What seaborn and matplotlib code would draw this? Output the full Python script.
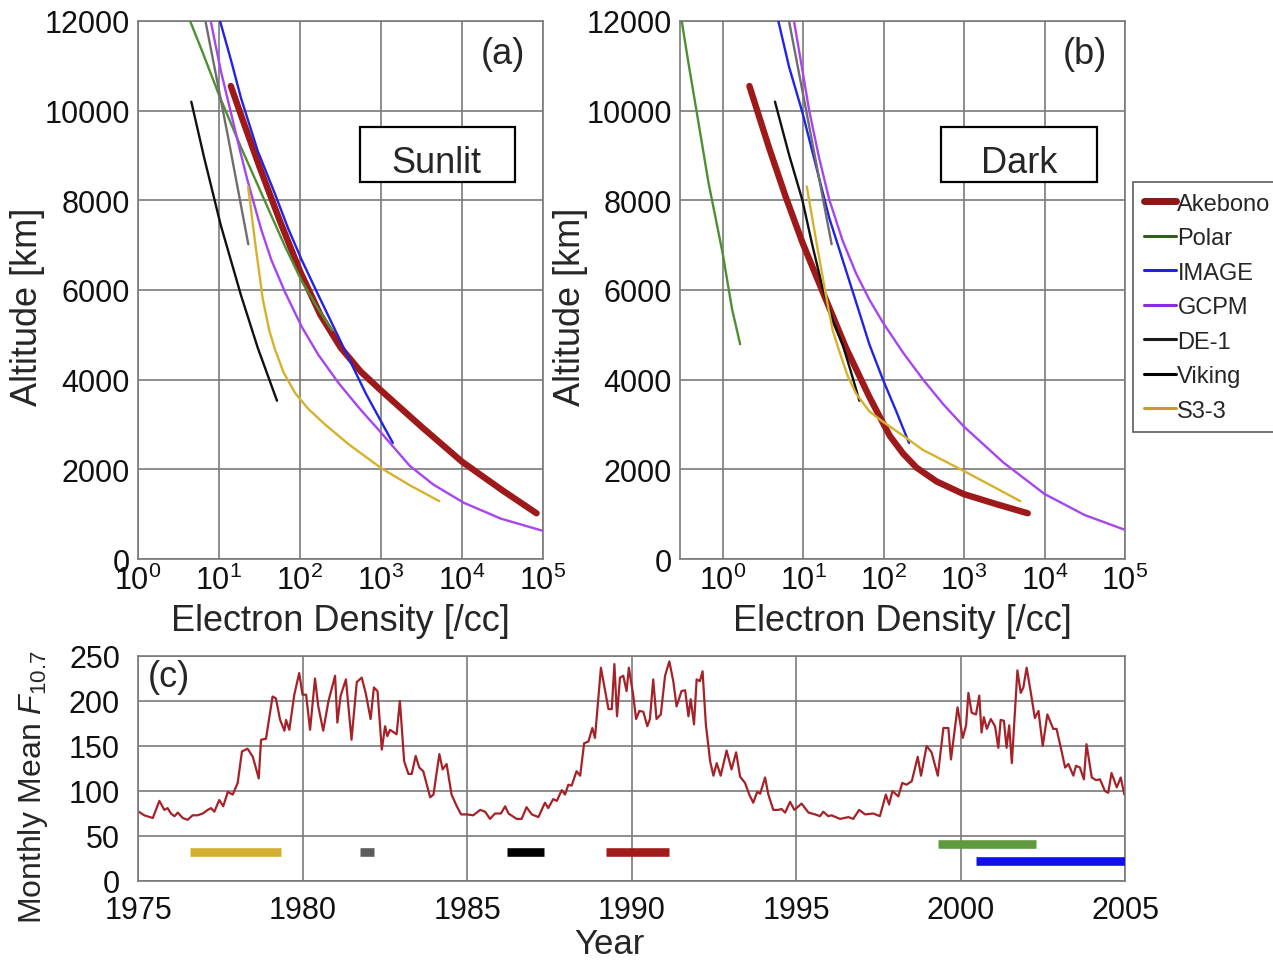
import numpy as np
import pandas as pd
import matplotlib
matplotlib.use("Agg")
import matplotlib.pyplot as plt
from matplotlib.lines import Line2D
from matplotlib.patches import Rectangle
from matplotlib.ticker import NullLocator
import seaborn as sns

# ---------------- data: panel (a) Sunlit ----------------
a_akebono_n = [14.0, 20.0, 31.6, 56.2, 100, 178, 316, 562, 1000, 3162, 10000, 31623, 83176]
a_akebono_h = [10550, 9750, 8750, 7550, 6420, 5450, 4720, 4180, 3760, 2950, 2170, 1530, 1020]
a_polar_n = [4.4, 6.5, 10, 18.7, 36.5, 65, 105, 169, 249]
a_polar_h = [12000, 11230, 10350, 9180, 8000, 6980, 6200, 5570, 5100]
a_image_n = [10.3, 14.0, 18.7, 30.1, 48.7, 71.5, 105, 169, 301, 443, 650, 953, 1400]
a_image_h = [12000, 11140, 10280, 9100, 8160, 7370, 6670, 5880, 4940, 4310, 3690, 3140, 2590]
a_gcpm_n = [7.9, 10.5, 14.0, 18.7, 22.6, 33.2, 44.3, 65, 105, 169, 301, 536, 1000, 2260, 4430, 10500, 30200, 100000]
a_gcpm_h = [12000, 10900, 9960, 9020, 8430, 7350, 6670, 5960, 5180, 4550, 3920, 3370, 2820, 2080, 1660, 1255, 900, 627]
a_de1_n = [6.8, 12.7, 23.0]
a_de1_h = [12000, 9490, 7020]
a_viking_n = [4.55, 6.5, 10.5, 18.7, 30.1, 52]
a_viking_h = [10200, 8980, 7450, 5880, 4710, 3530]
a_s33_n = [22.9, 28.2, 34.7, 41.7, 49.0, 63.1, 87.1, 126, 204, 398, 1000, 2239, 5248]
a_s33_h = [8300, 7000, 5800, 5100, 4680, 4150, 3700, 3350, 3000, 2560, 2030, 1650, 1290]

# ---------------- data: panel (b) Dark ----------------
b_akebono_n = [2.15, 3.76, 6.07, 9.8, 17.5, 34.1, 66.8, 119, 175, 256, 455, 982, 2560, 6190]
b_akebono_h = [10550, 9180, 8080, 7060, 5960, 4710, 3610, 2750, 2350, 2040, 1730, 1450, 1220, 1020]
b_polar_n = [0.31, 0.376, 0.477, 0.668, 1.0, 1.31, 1.65]
b_polar_h = [12000, 11060, 9960, 8390, 6820, 5570, 4790]
b_image_n = [4.92, 6.68, 9.8, 14.4, 21.1, 31.0, 45.5, 66.8, 98.2, 144, 207]
b_image_h = [12000, 10980, 9960, 8780, 7610, 6670, 5730, 4780, 4000, 3290, 2590]
b_gcpm_n = [7.7, 9.8, 11.9, 15.8, 21.1, 31.0, 45.5, 66.8, 100, 175, 310, 552, 1000, 3090, 10000, 31600, 100000]
b_gcpm_h = [12000, 10900, 10000, 8950, 8020, 7100, 6370, 5780, 5250, 4600, 4000, 3450, 2950, 2150, 1450, 980, 650]
b_de1_n = [6.68, 11.9, 22.6]
b_de1_h = [12000, 9650, 7020]
b_viking_n = [4.47, 6.68, 9.8, 13.1, 17.5, 23.3, 31.0, 39.5, 50.1]
b_viking_h = [10200, 9020, 8000, 6980, 6040, 5330, 4780, 4160, 3530]
b_s33_n = [11.1, 14.4, 19.2, 23.3, 28.2, 35.8, 45.5, 66.8, 98.2, 175, 310, 552, 1000, 2110, 5010]
b_s33_h = [8310, 7140, 5880, 5100, 4630, 4080, 3690, 3290, 3060, 2750, 2430, 2200, 1960, 1650, 1290]

missions = ["Akebono", "Polar", "IMAGE", "GCPM", "DE-1", "Viking", "S3-3"]
colors = {"Akebono": "#9e1a1a", "Polar": "#4f8f34", "IMAGE": "#2323e6",
          "GCPM": "#a845ee", "DE-1": "#6e6e6e", "Viking": "#111111", "S3-3": "#d6b22c"}
legend_colors = {"Akebono": "#8a1616", "Polar": "#2f5e1f", "IMAGE": "#2020e0",
                 "GCPM": "#8a2be2", "DE-1": "#1a1a1a", "Viking": "#000000", "S3-3": "#c89a3a"}

# ---------------- data: panel (c) F10.7 ----------------
f107_year = [1975.02, 1975.19, 1975.45, 1975.65, 1975.80, 1975.90, 1976.00, 1976.11, 1976.21, 1976.36,
             1976.51, 1976.66, 1976.81, 1976.97, 1977.12, 1977.22, 1977.32, 1977.47, 1977.59, 1977.73,
             1977.88, 1978.03, 1978.16, 1978.33, 1978.49, 1978.67, 1978.74, 1978.89, 1979.09, 1979.19,
             1979.32, 1979.45, 1979.50, 1979.60, 1979.75, 1979.90,
             1980.00, 1980.11, 1980.23, 1980.38, 1980.48, 1980.63, 1980.79, 1980.99, 1981.06, 1981.16,
             1981.32, 1981.49, 1981.65, 1981.80, 1981.92, 1982.07, 1982.17, 1982.28, 1982.41, 1982.51,
             1982.58, 1982.66, 1982.86, 1982.96, 1983.09, 1983.22, 1983.32, 1983.44, 1983.55, 1983.67,
             1983.75, 1983.88, 1983.98, 1984.16, 1984.26, 1984.38, 1984.53, 1984.69, 1984.82, 1984.99,
             1985.19, 1985.40, 1985.55, 1985.70, 1985.85, 1986.03, 1986.16, 1986.26, 1986.51, 1986.66,
             1986.81, 1986.97, 1987.17, 1987.37, 1987.47, 1987.62, 1987.73, 1987.88, 1987.98, 1988.08,
             1988.18, 1988.33, 1988.44, 1988.56, 1988.69, 1988.81, 1988.89, 1989.07, 1989.30, 1989.40,
             1989.48, 1989.56, 1989.65, 1989.75, 1989.85, 1989.92, 1990.05,
             1990.14, 1990.24, 1990.36, 1990.48, 1990.56, 1990.66, 1990.76, 1990.89, 1991.02, 1991.15,
             1991.27, 1991.37, 1991.52, 1991.63, 1991.73, 1991.80, 1991.90, 1991.98, 1992.08, 1992.16,
             1992.26, 1992.39, 1992.49, 1992.59, 1992.71, 1992.89, 1993.04, 1993.18, 1993.30, 1993.45,
             1993.58, 1993.70, 1993.82, 1993.91, 1994.06, 1994.16, 1994.31, 1994.46, 1994.56, 1994.67,
             1994.82, 1994.95,
             1995.17, 1995.38, 1995.58, 1995.73, 1995.83, 1995.98, 1996.08, 1996.34, 1996.59, 1996.74,
             1996.92, 1997.10, 1997.35, 1997.55, 1997.73, 1997.83, 1997.93, 1998.11, 1998.23, 1998.36,
             1998.52, 1998.70, 1998.80, 1998.97, 1999.12, 1999.31, 1999.48, 1999.63, 1999.71, 1999.91,
             2000.07,
             2000.17, 2000.24, 2000.34, 2000.47, 2000.57, 2000.64, 2000.71, 2000.80, 2000.92, 2001.05,
             2001.15, 2001.22, 2001.32, 2001.40, 2001.48, 2001.56, 2001.73, 2001.83, 2001.91, 2002.01,
             2002.13, 2002.26, 2002.37, 2002.50, 2002.64, 2002.82, 2002.92, 2003.08, 2003.18, 2003.28,
             2003.43, 2003.51, 2003.63, 2003.75, 2003.83, 2003.99, 2004.12, 2004.24, 2004.39, 2004.49,
             2004.59, 2004.75, 2004.87, 2004.98]
f107_flux = [77, 73, 70, 89, 79, 81, 75, 72, 76, 70,
             68, 73, 73, 75, 79, 81, 77, 90, 83, 99,
             96, 109, 144, 147, 138, 114, 157, 158, 205, 203,
             179, 167, 179, 168, 207, 231,
             207, 207, 168, 225, 194, 167, 200, 228, 176, 206,
             224, 157, 221, 226, 209, 180, 215, 211, 146, 172,
             161, 168, 163, 200, 133, 119, 119, 139, 126, 122,
             111, 93, 96, 141, 124, 130, 96, 83, 74, 74,
             73, 79, 77, 69, 75, 75, 83, 75, 69, 69,
             82, 74, 71, 87, 81, 91, 89, 101, 96, 107,
             106, 122, 117, 153, 155, 170, 159, 237, 191, 191,
             241, 183, 226, 228, 211, 237, 207,
             180, 189, 188, 172, 180, 224, 180, 185, 228, 244,
             222, 194, 211, 212, 183, 202, 174, 224, 222, 233,
             174, 133, 117, 131, 117, 145, 124, 143, 116, 109,
             96, 87, 99, 97, 115, 96, 79, 79, 80, 76,
             88, 79,
             86, 76, 74, 72, 77, 72, 73, 69, 71, 69,
             79, 74, 75, 72, 96, 85, 100, 94, 109, 107,
             111, 138, 117, 150, 143, 117, 170, 170, 135, 193,
             159,
             173, 209, 187, 185, 206, 165, 182, 169, 180, 172,
             148, 179, 178, 148, 173, 131, 234, 209, 215, 237,
             211, 181, 189, 150, 185, 169, 169, 143, 126, 130,
             117, 128, 126, 113, 152, 115, 112, 113, 100, 98,
             120, 104, 115, 96]

bar_mission = ["S3-3", "DE-1", "Viking", "Akebono", "Polar", "IMAGE"]
bar_start = [1976.58, 1981.75, 1986.23, 1989.21, 1999.31, 2000.46]
bar_end = [1979.35, 1982.17, 1987.34, 1991.15, 2002.31, 2005.0]
bar_level = [32, 32, 32, 32, 41, 22]
bar_colors = ["#d4b032", "#5c5c5c", "#000000", "#a01c1c", "#5f9a3e", "#1010ee"]

# ---------------- style ----------------
sns.set_theme(style="whitegrid")
plt.rcParams['font.family'] = ['Liberation Sans', 'DejaVu Sans']
plt.rcParams['mathtext.fontset'] = 'custom'
plt.rcParams['mathtext.rm'] = 'Liberation Sans'
plt.rcParams['mathtext.it'] = 'Liberation Sans:italic'
plt.rcParams['mathtext.bf'] = 'Liberation Sans:bold'

W, H = 1273, 962
fig = plt.figure(figsize=(W / 100, H / 100), dpi=100)
fig.patch.set_facecolor("white")

axA = fig.add_axes([138 / W, 1 - 560 / H, 405 / W, 538 / H])
axB = fig.add_axes([680 / W, 1 - 560 / H, 445 / W, 538 / H])
axC = fig.add_axes([138 / W, 1 - 882 / H, 987 / W, 225 / H])

GRID = "#7a7a7a"
TICK_FS = 22
LAB_FS = 26


def style(ax):
    ax.set_facecolor("white")
    ax.grid(True, color=GRID, lw=1.2)
    for s in ax.spines.values():
        s.set_visible(True)
        s.set_color(GRID)
        s.set_linewidth(1.2)
    ax.tick_params(axis="both", length=0, labelsize=TICK_FS, colors="#111111", pad=6)


panels = {
    axA: {"Akebono": (a_akebono_n, a_akebono_h), "Polar": (a_polar_n, a_polar_h),
          "IMAGE": (a_image_n, a_image_h), "GCPM": (a_gcpm_n, a_gcpm_h),
          "DE-1": (a_de1_n, a_de1_h), "Viking": (a_viking_n, a_viking_h),
          "S3-3": (a_s33_n, a_s33_h)},
    axB: {"Akebono": (b_akebono_n, b_akebono_h), "Polar": (b_polar_n, b_polar_h),
          "IMAGE": (b_image_n, b_image_h), "GCPM": (b_gcpm_n, b_gcpm_h),
          "DE-1": (b_de1_n, b_de1_h), "Viking": (b_viking_n, b_viking_h),
          "S3-3": (b_s33_n, b_s33_h)},
}

for ax, curves in panels.items():
    style(ax)
    for m in missions:
        n, h = curves[m]
        df = pd.DataFrame({"density": n, "altitude": h})
        sns.lineplot(data=df, x="density", y="altitude", ax=ax, sort=False, estimator=None,
                     color=colors[m], lw=4.6 if m == "Akebono" else 1.7,
                     solid_capstyle="round", solid_joinstyle="round",
                     zorder=3 if m != "Akebono" else 2.5)
    ax.set_xscale("log")
    ax.set_ylim(0, 12000)
    ax.set_yticks(range(0, 12001, 2000))
    ax.set_yticklabels([str(v) for v in range(0, 12001, 2000)])
    ax.set_xticks([10.0 ** k for k in range(6)])
    ax.set_xticklabels([r"$10^{%d}$" % k for k in range(6)])
    ax.xaxis.set_minor_locator(NullLocator())
    ax.set_xlabel("Electron Density [/cc]", fontsize=LAB_FS, labelpad=5)
    ax.set_ylabel("Altitude [km]", fontsize=LAB_FS)
    ax.tick_params(axis="x", pad=4)

axA.set_xlim(1, 1e5)
axB.set_xlim(10 ** -0.53, 1e5)
axA.yaxis.set_label_coords(-0.2296, 0.47)
axB.yaxis.set_label_coords(-0.2067, 0.47)

# panel labels & condition boxes
axA.text(0.901, 0.939, "(a)", transform=axA.transAxes, ha="center", va="center", fontsize=26)
axB.text(0.91, 0.939, "(b)", transform=axB.transAxes, ha="center", va="center", fontsize=26)
axA.add_patch(Rectangle((0.548, 0.7007), 0.383, 0.102, transform=axA.transAxes,
                        facecolor="white", edgecolor="black", lw=1.6, zorder=5))
axA.text(0.738, 0.72, "Sunlit", transform=axA.transAxes, ha="center", va="baseline",
         fontsize=26, zorder=6)
axB.add_patch(Rectangle((0.5865, 0.7007), 0.3506, 0.102, transform=axB.transAxes,
                        facecolor="white", edgecolor="black", lw=1.6, zorder=5))
axB.text(0.762, 0.72, "Dark", transform=axB.transAxes, ha="center", va="baseline",
         fontsize=26, zorder=6)

# legend
handles = [Line2D([0], [0], color=legend_colors[m], lw=5.0 if m == "Akebono" else 2.2)
           for m in missions]
leg = fig.legend(handles, missions, loc="upper left", bbox_to_anchor=(1133 / W, 1 - 183 / H),
                 frameon=True, fancybox=False, edgecolor="#333333", fontsize=17,
                 handlelength=1.35, handletextpad=0.08, labelspacing=0.53, borderpad=0.45,
                 borderaxespad=0.0)
leg.get_frame().set_linewidth(1.2)

# panel (c)
style(axC)
dfc = pd.DataFrame({"year": f107_year, "flux": f107_flux})
sns.lineplot(data=dfc, x="year", y="flux", ax=axC, sort=False, estimator=None,
             color="#a52228", lw=1.6)
axC.hlines(bar_level, bar_start, bar_end, colors=bar_colors, lw=6.2, capstyle="butt", zorder=4)
axC.set_xlim(1975, 2005)
axC.set_ylim(0, 250)
axC.set_xticks(range(1975, 2006, 5))
axC.set_yticks(range(0, 251, 50))
axC.tick_params(axis="x", pad=10)
axC.tick_params(axis="y", pad=13)
axC.set_xlabel("Year", fontsize=25)
axC.xaxis.set_label_coords(0.478, -0.205)
axC.set_ylabel(r"Monthly Mean $F_{10.7}$", fontsize=23)
axC.yaxis.set_label_coords(-0.089, 0.42)
axC.text(0.031, 0.911, "(c)", transform=axC.transAxes, ha="center", va="center", fontsize=26)

fig.savefig("out.png", dpi=100, facecolor="white")
